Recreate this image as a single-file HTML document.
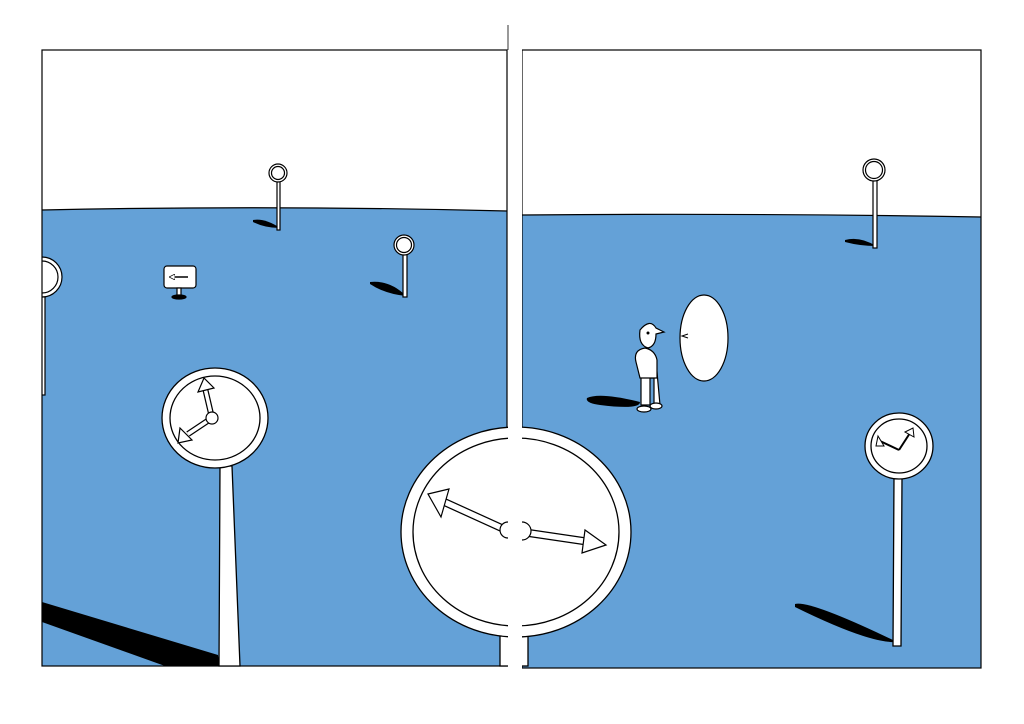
<!DOCTYPE html>
<html><head><meta charset="utf-8"><style>
html,body{margin:0;padding:0;background:#fff;}
svg{display:block;}
</style></head><body>
<svg width="1024" height="724" viewBox="0 0 1024 724" xmlns="http://www.w3.org/2000/svg">
<defs>
<marker id="a" viewBox="0 0 10 10" refX="5" refY="5" markerWidth="4" markerHeight="4" orient="auto"><path d="M0,0 L10,5 L0,10 z" fill="#fff" stroke="#000" stroke-width="1.2"/></marker>
<clipPath id="lp"><rect x="42" y="50" width="465" height="616"/></clipPath>
</defs>
<rect width="1024" height="724" fill="#fff"/>
<path d="M42,210 Q270,205 507,211 L507,666 L42,666 Z" fill="#64a1d7"/>
<path d="M42,210 Q270,205 507,211" fill="none" stroke="#000" stroke-width="1.2"/>
<path d="M522,215 Q750,213 981,217 L981,668 L522,668 Z" fill="#64a1d7"/>
<path d="M522,215 Q750,213 981,217" fill="none" stroke="#000" stroke-width="1.2"/>

<path d="M42,602 L218,655 L220,666 L165,666 L42,622 Z" fill="#000"/>
<path d="M253,220 Q265,218 280,228 Q265,228 253,222Z" fill="#000"/>
<path d="M370,282 Q390,280 406,296 Q385,294 370,284Z" fill="#000"/>
<path d="M587,398 Q600,392 640,402 Q640,410 600,405 Q585,403 587,398Z" fill="#000"/>
<path d="M845,240 Q860,236 876,246 Q860,246 845,242Z" fill="#000"/>
<path d="M795,604 Q810,600 897,642 Q870,644 795,607Z" fill="#000"/>

<g stroke="#000" stroke-width="1.2" fill="#fff">
<rect x="277" y="178" width="3" height="52"/>
<circle cx="278" cy="173" r="9"/><circle cx="278" cy="173" r="6.5"/>
<rect x="403" y="252" width="4" height="45"/>
<circle cx="404" cy="245" r="10"/><circle cx="404" cy="245" r="7.5"/>
<rect x="873" y="178" width="4" height="70"/>
<circle cx="874" cy="170" r="11"/><circle cx="874" cy="170" r="8.5"/>
<g clip-path="url(#lp)">
<rect x="40" y="295" width="5" height="100"/>
<circle cx="42" cy="277" r="20"/><circle cx="42" cy="277" r="16"/>
</g>
<rect x="164" y="266" width="32" height="22" rx="3"/>
<rect x="177" y="288" width="4" height="8"/>
<ellipse cx="179" cy="297" rx="7" ry="2" fill="#000"/>
</g>
<path d="M188,277 L172,277" stroke="#000" stroke-width="1.5" marker-end="url(#a)"/>
<rect x="42" y="50" width="465" height="616" fill="none" stroke="#000" stroke-width="1.2"/>
<rect x="522" y="50" width="459" height="618" fill="none" stroke="#000" stroke-width="1.2"/>

<g stroke="#000" stroke-width="1.3" fill="#fff">
<polygon points="220,466 232,466 240,666 219,666"/>
<ellipse cx="215" cy="418" rx="53" ry="50"/>
<ellipse cx="215" cy="418" rx="45" ry="42"/>
</g>
<path d="M212,418 L205,388" stroke="#000" stroke-width="6" stroke-linecap="round"/>
<path d="M212,418 L205,388" stroke="#fff" stroke-width="3.5"/>
<polygon points="198,392 204,378 214,388" fill="#fff" stroke="#000" stroke-width="1.2"/>
<path d="M212,418 L188,434" stroke="#000" stroke-width="6"/>
<path d="M212,418 L188,434" stroke="#fff" stroke-width="3.5"/>
<polygon points="180,428 178,443 192,440" fill="#fff" stroke="#000" stroke-width="1.2"/>
<circle cx="212" cy="418" r="6" fill="#fff" stroke="#000" stroke-width="1.2"/>

<g stroke="#000" stroke-width="1.3" fill="#fff">
<polygon points="894,478 902,478 901,646 893,646"/>
<ellipse cx="899" cy="446" rx="34" ry="33"/>
<ellipse cx="899" cy="446" rx="28" ry="27"/>
</g>
<path d="M899,450 L880,441" stroke="#000" stroke-width="2"/>
<path d="M899,450 L910,433" stroke="#000" stroke-width="2"/>
<polygon points="878,436 876,446 884,446" fill="#fff" stroke="#000"/>
<polygon points="905,432 913,428 914,437" fill="#fff" stroke="#000"/>

<g stroke="#000" stroke-width="1.2" fill="#fff">
<path d="M641,375 L641,405 L650,405 L650,378 L654,378 L654,405 L660,405 L657,372Z"/>
<ellipse cx="644" cy="409" rx="7" ry="3"/><ellipse cx="656" cy="406" rx="6" ry="3"/>
<path d="M636,362 Q633,350 645,348 Q655,350 657,360 L657,378 L640,378 Z"/>
<path d="M640,330 Q650,318 656,328 L664,332 L656,334 Q656,346 648,348 Q638,345 640,330Z"/>
<ellipse cx="704" cy="338" rx="24" ry="43"/>
</g>
<circle cx="648" cy="333" r="1.5" fill="#000"/>
<path d="M688,338 L682,336 L688,334" fill="#fff" stroke="#000"/>

<g stroke="#000" stroke-width="1.3" fill="#fff">
<rect x="500" y="632" width="28" height="34"/>
<ellipse cx="516" cy="532" rx="115" ry="105"/>
<ellipse cx="516" cy="532" rx="103" ry="94"/>
</g>
<rect x="508" y="0" width="14" height="724" fill="#fff"/>
<line x1="508" y1="25" x2="508" y2="50" stroke="#000" stroke-width="0.8"/>
<path d="M506,530 L440,500" stroke="#000" stroke-width="8"/>
<path d="M506,530 L440,500" stroke="#fff" stroke-width="5.5"/>
<polygon points="428,494 449,489 441,517" fill="#fff" stroke="#000" stroke-width="1.2"/>
<path d="M522,532 L590,542" stroke="#000" stroke-width="8"/>
<path d="M522,532 L590,542" stroke="#fff" stroke-width="5.5"/>
<polygon points="606,545 585,530 582,553" fill="#fff" stroke="#000" stroke-width="1.2"/>
<path d="M508,522 A8,8 0 0 0 508,538" fill="#fff" stroke="#000" stroke-width="1.2"/>
<path d="M522,522 A8,8 0 0 1 522,540" fill="#fff" stroke="#000" stroke-width="1.2"/>
<rect x="508" y="522" width="14" height="20" fill="#fff"/>
</svg>
</body></html>
